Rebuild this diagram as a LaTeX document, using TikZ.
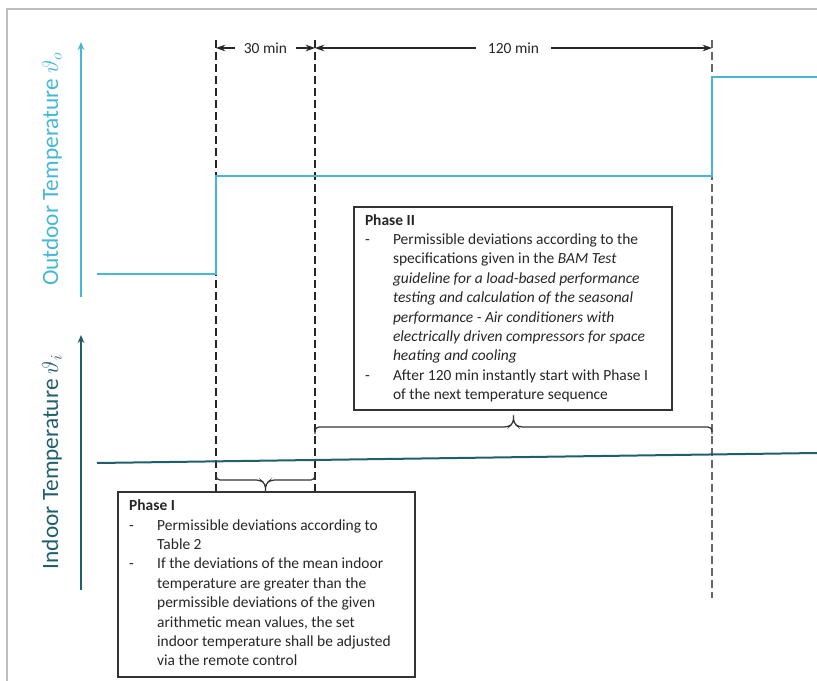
\documentclass[tikz,border=0pt]{standalone}
\usepackage{fontspec}
\setmainfont{Carlito}
\usepackage{tikz}
\usetikzlibrary{arrows.meta, positioning, calc}
\definecolor{outBlue}{HTML}{45B8D3}
\definecolor{inTeal}{HTML}{1F5F6C}
\definecolor{frameGray}{HTML}{BDBDBD}
\newcommand{\phlines}[2]{\makebox[#1][l]{\begin{tabular}{@{}p{21pt}@{}l@{}}#2\end{tabular}}}

\begin{document}
\begin{tikzpicture}[
    x=0.75pt, y=-0.75pt,
    font=\fontsize{11.6}{14.55}\selectfont, >=Stealth,
    timemark/.style={draw=black!85, line width=1pt, dash pattern=on 6pt off 3pt},
    dimline/.style={<->, line width=0.8pt, draw=black!85, >={Stealth[length=7pt, width=5pt]}},
    dimlabel/.style={fill=white, inner xsep=7pt, inner ysep=1pt, text=black!85},
    axisarrow/.style={->, line width=1.1pt, draw=#1, >={Stealth[length=6pt, width=5pt]}},
    axislabel/.style={rotate=90, text=#1, font=\fontsize{17.5}{20}\selectfont},
    curve/.style={line width=1.5pt, draw=#1},
    phasebox/.style={draw=black!80, line width=1.1pt, text=black!85,
                     inner xsep=0pt, inner ysep=0pt},
    bracket/.style={draw=black!80, line width=0.9pt, rounded corners=3pt},
  ]
    \useasboundingbox (0,0) rectangle (817,681);
    \draw[frameGray, line width=1.2pt] (817,9) -- (7,9) -- (7,681);

    % time marks
    \coordinate (t0top) at (216,40);
    \coordinate (t1top) at (315,40);
    \coordinate (t2top) at (712,40);
    \coordinate (t0bot) at (216,491);
    \coordinate (t1bot) at (315,491);
    \coordinate (t2bot) at (712,598);
    \draw[timemark] (t0top) -- (t0bot);
    \draw[timemark] (t1top) -- (t1bot);
    \draw[timemark, draw=black!60] (t2top) -- (t2bot);

    % durations
    \coordinate (d0) at (216,48);
    \coordinate (d1) at (315,48);
    \coordinate (d2) at (712,48);
    \draw[dimline] (d0) -- node[dimlabel] (dur30) {30 min} (d1);
    \draw[dimline] (d1) -- node[dimlabel, inner xsep=9pt] (dur120) {120 min} (d2);

    % Outdoor axis
    \coordinate (outAxS) at (81,297);
    \coordinate (outAxE) at (81,42);
    \draw[axisarrow=outBlue] (outAxS) -- (outAxE);
    \node[axislabel=outBlue] (outLab) at (52,169) {Outdoor Temperature $\vartheta_o$};

    % Indoor axis
    \coordinate (inAxS) at (81,590);
    \coordinate (inAxE) at (81,335);
    \draw[axisarrow=inTeal] (inAxS) -- (inAxE);
    \node[axislabel=inTeal] (inLab) at (52,462) {Indoor Temperature $\vartheta_i$};

    % temperature curves
    \coordinate (out0) at (97,274);
    \coordinate (out1) at (216,274);
    \coordinate (out2) at (216,176);
    \coordinate (out3) at (712,176);
    \coordinate (out4) at (712,77);
    \coordinate (out5) at (817,77);
    \draw[curve=outBlue] (out0) -- (out1) -- (out2) -- (out3) -- (out4) -- (out5);
    \coordinate (in0) at (97,463);
    \coordinate (in1) at (817,453);
    \draw[curve=inTeal] (in0) -- (in1);

    % Phase II
    \node[phasebox, minimum width=238.5pt, minimum height=152.25pt]
      (p2box) at (513,308.5) {\phlines{222pt}{%
      \multicolumn{2}{@{}l@{}}{\textbf{Phase II}}\\
      - & Permissible deviations according to the\\
        & specifications given in the \textit{BAM Test}\\
        & \textit{guideline for a load-based performance}\\
        & \textit{testing and calculation of the seasonal}\\
        & \textit{performance - Air conditioners with}\\
        & \textit{electrically driven compressors for space}\\
        & \textit{heating and cooling}\\
      - & After 120 min instantly start with Phase I\\
        & of the next temperature sequence}};
    \coordinate (br2a) at (315,434);
    \coordinate (br2b) at (712,434);
    \coordinate (br2m) at ($(br2a)!0.5!(br2b)$);
    \draw[bracket] (br2a) -- ++(0,-7) -- ($(br2m)+(-5,-7)$) -- ($(br2m)+(0,-11)$)
      -- ($(br2m)+(0,-18)$) -- ($(br2m)+(0,-11)$) -- ($(br2m)+(5,-7)$)
      -- ($(br2b)+(0,-7)$) -- (br2b);

    % Phase I
    \node[phasebox, minimum width=222.75pt, minimum height=138.75pt]
      (p1box) at (266.5,584.5) {\phlines{206pt}{%
      \multicolumn{2}{@{}l@{}}{\textbf{Phase I}}\\
      - & Permissible deviations according to\\
        & Table 2\\
      - & If the deviations of the mean indoor\\
        & temperature are greater than the\\
        & permissible deviations of the given\\
        & arithmetic mean values, the set\\
        & indoor temperature shall be adjusted\\
        & via the remote control}};
    \coordinate (br1a) at (216,473);
    \coordinate (br1b) at (315,473);
    \coordinate (br1m) at ($(br1a)!0.5!(br1b)$);
    \draw[bracket] (br1a) -- ++(0,7) -- ($(br1m)+(-5,7)$) -- ($(br1m)+(0,11)$)
      -- ($(br1m)+(0,18)$) -- ($(br1m)+(0,11)$) -- ($(br1m)+(5,7)$)
      -- ($(br1b)+(0,7)$) -- (br1b);
  \end{tikzpicture}
\end{document}
